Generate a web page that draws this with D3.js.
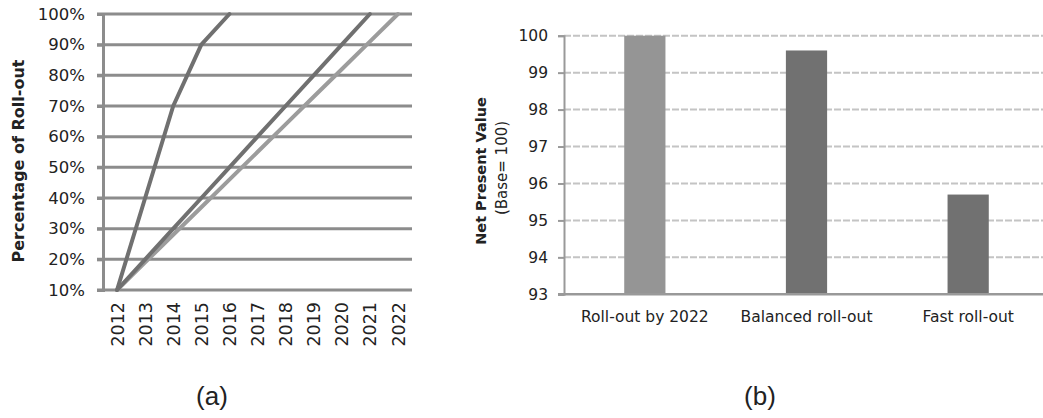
<!DOCTYPE html>
<html>
<head>
<meta charset="utf-8">
<script src="https://cdn.jsdelivr.net/npm/d3@7"></script>
<style>
  html, body { margin: 0; padding: 0; background: #fff; }
  svg { display: block; }
  text { font-family: "DejaVu Sans", sans-serif; fill: #222; }
</style>
</head>
<body>
<svg id="chart" width="1043" height="418"></svg>
<script>
// Panel (a): roll-out paths by year
const years = ["2012","2013","2014","2015","2016","2017","2018","2019","2020","2021","2022"];
const pctTicks = [10, 20, 30, 40, 50, 60, 70, 80, 90, 100];
const fastRollout = [10, 40, 70, 90, 100];                         // 2012–2016
const balancedRollout = [10, 20, 30, 40, 50, 60, 70, 80, 90, 100]; // 2012–2021
const rolloutBy2022 = [10, 19, 28, 37, 46, 55, 64, 73, 82, 91, 100]; // 2012–2022

// Panel (b): net present value per scenario
const scenarios = ["Roll-out by 2022", "Balanced roll-out", "Fast roll-out"];
const npv = [100, 99.6, 95.7];
const npvTicks = [93, 94, 95, 96, 97, 98, 99, 100];

const svg = d3.select("#chart");

/* ---------- panel (a) ---------- */
const xA = d3.scalePoint().domain(years).range([103, 412]).padding(0.5);
const yA = d3.scaleLinear().domain([10, 100]).range([290, 14]);
const gA = svg.append("g");

// horizontal gridlines
gA.selectAll("line.grid").data(pctTicks).join("line")
  .attr("x1", 97).attr("x2", 412)
  .attr("y1", d => yA(d)).attr("y2", d => yA(d))
  .attr("stroke", "#8c8c8c").attr("stroke-width", 3);

// y axis
const axA = gA.append("g").attr("transform", "translate(103,0)")
  .call(d3.axisLeft(yA).tickValues(pctTicks).tickFormat(d => d + "%").tickSize(6).tickPadding(12));
axA.select(".domain").attr("stroke", "#8c8c8c").attr("stroke-width", 3);
axA.selectAll(".tick line").attr("stroke", "#8c8c8c").attr("stroke-width", 3);
axA.selectAll(".tick text").style("font-size", "16.5px").style("font-family", "DejaVu Sans").attr("fill", "#222");

// x axis with vertical year labels
const axXA = gA.append("g").attr("transform", "translate(0,290)")
  .call(d3.axisBottom(xA).tickSize(0).tickPadding(0));
axXA.select(".domain").remove();
axXA.selectAll(".tick text")
  .style("font-size", "17.5px").style("font-family", "DejaVu Sans").attr("fill", "#222")
  .attr("transform", "rotate(-90)")
  .attr("text-anchor", "end").attr("dy", "0.35em")
  .attr("x", -12).attr("y", 0);

gA.append("text")
  .attr("transform", "translate(24,161) rotate(-90)")
  .attr("text-anchor", "middle")
  .style("font-size", "16px").style("font-weight", "bold")
  .text("Percentage of Roll-out");

const lineA = d3.line().x((d, i) => xA(years[i])).y(d => yA(d));
const seriesA = [
  { values: rolloutBy2022, color: "#9c9c9c" },
  { values: balancedRollout, color: "#707070" },
  { values: fastRollout, color: "#707070" }
];
gA.selectAll("path.series").data(seriesA).join("path")
  .attr("fill", "none")
  .attr("stroke", d => d.color)
  .attr("stroke-width", 4)
  .attr("stroke-linejoin", "round")
  .attr("stroke-linecap", "round")
  .attr("d", d => lineA(d.values));

svg.append("text")
  .attr("x", 212).attr("y", 405)
  .attr("text-anchor", "middle")
  .style("font-family", "Liberation Sans, Arial, sans-serif")
  .style("font-size", "26px")
  .text("(a)");

/* ---------- panel (b) ---------- */
const xB = d3.scaleBand().domain(scenarios).range([564, 1049])
  .paddingInner(0.745).paddingOuter(0.3725);
const yB = d3.scaleLinear().domain([93, 100]).range([294.3, 35.7]);
const gB = svg.append("g");

// dashed gridlines
gB.selectAll("line.grid").data(npvTicks.filter(d => d > 93)).join("line")
  .attr("x1", 564).attr("x2", 1043)
  .attr("y1", d => yB(d)).attr("y2", d => yB(d))
  .attr("stroke", "#c4c4c4").attr("stroke-width", 2)
  .attr("stroke-dasharray", "7,2");

gB.selectAll("rect.bar").data(npv).join("rect")
  .attr("x", (d, i) => xB(scenarios[i]))
  .attr("width", xB.bandwidth())
  .attr("y", d => yB(d))
  .attr("height", d => yB(93) - yB(d))
  .attr("fill", (d, i) => i === 0 ? "#959595" : "#717171");

const axB = gB.append("g").attr("transform", "translate(564,0)")
  .call(d3.axisLeft(yB).tickValues(npvTicks).tickFormat(d3.format("d")).tickSize(6).tickPadding(10));
axB.select(".domain").attr("stroke", "#999").attr("stroke-width", 2);
axB.selectAll(".tick line").attr("stroke", "#999").attr("stroke-width", 2);
axB.selectAll(".tick text").style("font-size", "15.5px").style("font-family", "DejaVu Sans").attr("fill", "#222");

// baseline
gB.append("line")
  .attr("x1", 558).attr("x2", 1043)
  .attr("y1", yB(93)).attr("y2", yB(93))
  .attr("stroke", "#999").attr("stroke-width", 2.5);

const axXB = gB.append("g").attr("transform", `translate(0,${yB(93)})`)
  .call(d3.axisBottom(xB).tickSize(0).tickPadding(17));
axXB.select(".domain").remove();
axXB.selectAll(".tick text").style("font-size", "15.5px").style("font-family", "DejaVu Sans").attr("fill", "#222");

gB.append("text")
  .attr("transform", "translate(486,171) rotate(-90)")
  .attr("text-anchor", "middle")
  .style("font-size", "14.5px").style("font-weight", "bold")
  .text("Net Present Value");
gB.append("text")
  .attr("transform", "translate(507,168) rotate(-90)")
  .attr("text-anchor", "middle")
  .style("font-size", "15px")
  .text("(Base= 100)");

svg.append("text")
  .attr("x", 760).attr("y", 405)
  .attr("text-anchor", "middle")
  .style("font-family", "Liberation Sans, Arial, sans-serif")
  .style("font-size", "26px")
  .text("(b)");
</script>
</body>
</html>
